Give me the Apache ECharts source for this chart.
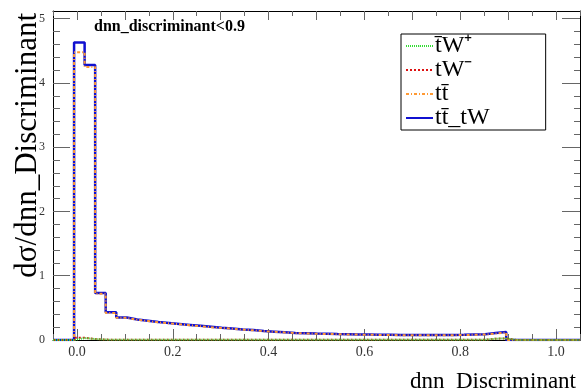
<!DOCTYPE html>
<html>
<head>
<meta charset="utf-8">
<script src="https://cdn.jsdelivr.net/npm/echarts@6/dist/echarts.min.js"></script>
<style>html,body{margin:0;padding:0;background:#fff}#c{width:581px;height:390px}</style>
</head>
<body>
<div id="c"></div>
<script>
// Histogram binning (50 bins from -0.05 to 1.05)
const xMin = -0.05, xMax = 1.05, nBins = 50;
const seriesNames = ['t\u0304W\u207A', 'tW\u207B', 'tt\u0304', 'tt\u0304_tW'];
const xTickLabels = ['0.0', '0.2', '0.4', '0.6', '0.8', '1.0'];
const yTickLabels = ['0', '1', '2', '3', '4', '5'];

const tWplus = [0,0,0.03,0.015,0.006,0.005,0.004,0.004,0.004,0.004,0.004,0.004,0.004,0.003,0.003,0.003,0.003,0.003,0.003,0.003,0.003,0.003,0.003,0.003,0.003,0.003,0.003,0.003,0.003,0.003,0.003,0.003,0.003,0.003,0.003,0.003,0.003,0.003,0.003,0.004,0.004,0.02,0.025,0,0,0,0,0,0,0];
const tWminus = [0,0,0.035,0.015,0.006,0.005,0.004,0.004,0.004,0.004,0.004,0.004,0.004,0.003,0.003,0.003,0.003,0.003,0.003,0.003,0.003,0.003,0.003,0.003,0.003,0.003,0.003,0.003,0.003,0.003,0.003,0.003,0.003,0.003,0.003,0.003,0.003,0.003,0.003,0.004,0.004,0.02,0.025,0,0,0,0,0,0,0];
const ttbar = [0,0,4.48,4.25,0.72,0.42,0.345,0.315,0.295,0.275,0.26,0.245,0.23,0.215,0.2,0.186,0.176,0.161,0.151,0.137,0.127,0.117,0.107,0.102,0.097,0.094,0.09,0.087,0.084,0.082,0.079,0.077,0.075,0.074,0.073,0.073,0.074,0.075,0.077,0.081,0.086,0.1,0.115,0,0,0,0,0,0,0];
const ttbar_tW = [0,0,4.63,4.28,0.73,0.43,0.35,0.32,0.30,0.28,0.265,0.25,0.235,0.22,0.205,0.19,0.18,0.165,0.155,0.14,0.13,0.12,0.11,0.105,0.10,0.097,0.093,0.09,0.087,0.085,0.082,0.08,0.078,0.077,0.076,0.076,0.077,0.078,0.08,0.085,0.09,0.11,0.125,0,0,0,0,0,0,0];

const bw = (xMax - xMin) / nBins;
function histPoints(vals) {
  const pts = [];
  for (let k = 0; k < vals.length; k++) pts.push([xMin + k * bw, vals[k]]);
  pts.push([xMax, vals[vals.length - 1]]);
  return pts;
}
function range(a, b, s) { const r = []; for (let v = a; v <= b + 1e-9; v += s) r.push(+v.toFixed(4)); return r; }

const xMajor = xTickLabels.map(Number);
const yMajor = yTickLabels.map(Number);
const yTop = 5.12;
const serif = 'Liberation Serif';
const tickCol = '#666';

function xAx(pos, vals, len, labels, line) {
  return {
    type: 'value', min: xMin, max: xMax, position: pos,
    axisLine: { show: line, onZero: false, lineStyle: { color: '#000', width: 1 } },
    axisTick: { show: true, inside: true, length: len, customValues: vals, lineStyle: { color: tickCol } },
    axisLabel: labels ? { show: true, customValues: xMajor, formatter: v => v.toFixed(1), fontFamily: serif, fontSize: 14, color: '#333', margin: 5 } : { show: false },
    splitLine: { show: false }
  };
}
function yAx(pos, vals, len, labels, line) {
  return {
    type: 'value', min: 0, max: yTop, position: pos,
    axisLine: { show: line, onZero: false, lineStyle: { color: '#000', width: 1 } },
    axisTick: { show: true, inside: true, length: len, customValues: vals, lineStyle: { color: tickCol } },
    axisLabel: labels ? { show: true, customValues: yMajor, formatter: v => String(v), fontFamily: serif, fontSize: 12, color: '#333', margin: 8 } : { show: false },
    splitLine: { show: false }
  };
}

const chart = echarts.init(document.getElementById('c'), null, { renderer: 'canvas' });
chart.setOption({
  animation: false,
  backgroundColor: '#fff',
  grid: { left: 53, right: 1, top: 11, bottom: 50, containLabel: false },
  title: {
    text: 'dnn_discriminant<0.9', left: 89, top: 14,
    textStyle: { fontFamily: serif, fontWeight: 'bold', fontSize: 16, color: '#000' }
  },
  legend: {
    orient: 'vertical', left: 401, top: 34,
    data: seriesNames,
    itemWidth: 27, itemHeight: 1, itemGap: 0,
    backgroundColor: '#fff', borderColor: '#000', borderWidth: 1,
    padding: [0, 56, 0, 4],
    textStyle: { fontFamily: serif, fontSize: 24, color: '#000', padding: [0, 0, 0, -3] }
  },
  xAxis: [
    xAx('bottom', xMajor, 11, true, true),
    xAx('bottom', range(xMin, xMax, 0.05), 6, false, false),
    xAx('top', range(-0.0, 1.0, 0.1), 9, false, true),
    xAx('top', range(xMin, xMax, 0.05), 5, false, false)
  ],
  yAxis: [
    yAx('left', yMajor, 17, true, true),
    yAx('left', range(0, 5, 0.2), 7, false, false),
    yAx('right', yMajor, 18, false, true),
    yAx('right', range(0, 5, 0.2), 6, false, false)
  ],
  graphic: [
    { type: 'text', x: 28, y: 13, rotation: Math.PI / 2,
      style: { text: 'd\u03C3/dnn_Discriminant', font: '31px "Liberation Serif"', fill: '#000', textAlign: 'right', textVerticalAlign: 'middle' } },
    { type: 'text', x: 576, y: 393,
      style: { text: 'dnn_Discriminant', font: '23px "Liberation Serif"', fill: '#000', textAlign: 'right', textVerticalAlign: 'bottom' } }
  ],
  series: [
    { name: seriesNames[3], type: 'line', step: 'end', symbol: 'none', data: histPoints(ttbar_tW), z: 2,
      lineStyle: { color: '#1010d0', width: 2.5, type: 'solid' }, itemStyle: { color: '#1010d0' } },
    { name: seriesNames[2], type: 'line', step: 'end', symbol: 'none', data: histPoints(ttbar), z: 3,
      lineStyle: { color: '#ff9933', width: 2, type: [3, 2, 1, 2] }, itemStyle: { color: '#ff9933' } },
    { name: seriesNames[1], type: 'line', step: 'end', symbol: 'none', data: histPoints(tWminus), z: 4,
      lineStyle: { color: '#dd1111', width: 2, type: [2, 2] }, itemStyle: { color: '#dd1111' } },
    { name: seriesNames[0], type: 'line', step: 'end', symbol: 'none', data: histPoints(tWplus), z: 5,
      lineStyle: { color: '#33dd33', width: 2, type: [1, 1] }, itemStyle: { color: '#33dd33' } }
  ]
});
</script>
</body>
</html>
